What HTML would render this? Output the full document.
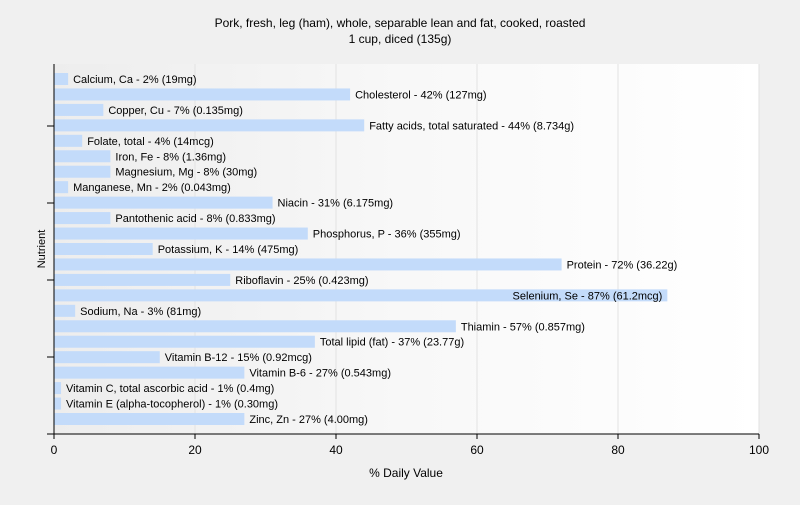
<!DOCTYPE html>
<html><head><meta charset="utf-8"><style>
body{margin:0;background:#f0f0f0;font-family:"Liberation Sans",sans-serif}
</style></head><body>
<svg id="c" width="800" height="500" xmlns="http://www.w3.org/2000/svg">
<defs><linearGradient id="g" x1="0" x2="1" y1="0" y2="0"><stop offset="0" stop-color="#ededed"/><stop offset="0.5" stop-color="#f8f8f8"/><stop offset="1" stop-color="#ffffff"/></linearGradient></defs>
<rect x="54" y="64" width="705" height="370" fill="url(#g)"/>
<text x="400" y="27" text-anchor="middle" font-size="12">Pork, fresh, leg (ham), whole, separable lean and fat, cooked, roasted</text>
<text x="400" y="43" text-anchor="middle" font-size="12">1 cup, diced (135g)</text>
<text x="406" y="477" text-anchor="middle" font-size="12">% Daily Value</text>
<text transform="translate(45,249) rotate(-90)" text-anchor="middle" font-size="11">Nutrient</text>
<g id="grid"></g><g id="bars"></g><g id="axes"></g>
</svg>
<script>
const names=["Calcium, Ca","Cholesterol","Copper, Cu","Fatty acids, total saturated","Folate, total","Iron, Fe","Magnesium, Mg","Manganese, Mn","Niacin","Pantothenic acid","Phosphorus, P","Potassium, K","Protein","Riboflavin","Selenium, Se","Sodium, Na","Thiamin","Total lipid (fat)","Vitamin B-12","Vitamin B-6","Vitamin C, total ascorbic acid","Vitamin E (alpha-tocopherol)","Zinc, Zn"];
const values=[2,42,7,44,4,8,8,2,31,8,36,14,72,25,87,3,57,37,15,27,1,1,27];
const amounts=["19mg","127mg","0.135mg","8.734g","14mcg","1.36mg","30mg","0.043mg","6.175mg","0.833mg","355mg","475mg","36.22g","0.423mg","61.2mcg","81mg","0.857mg","23.77g","0.92mcg","0.543mg","0.4mg","0.30mg","4.00mg"];
const xTicks=[0,20,40,60,80,100];
const NS="http://www.w3.org/2000/svg";
const x=v=>54+v*7.05;
const n=names.length;
const y=i=>79+i*(419-79)/(n-1);
function mk(t,a,p){const e=document.createElementNS(NS,t);for(const k in a)e.setAttribute(k,a[k]);document.getElementById(p).appendChild(e);return e;}
xTicks.forEach(t=>{
 if(t>0){const l=mk('line',{x1:x(t),x2:x(t),y1:64,y2:434,stroke:'#e2e2e2'},'grid');
 
 }
 const k=mk('line',{x1:x(t),x2:x(t),y1:434,y2:439,stroke:'#000'},'axes');
 
 
 const tx=mk('text',{x:x(t),y:454,'text-anchor':'middle','font-size':12},'axes');tx.textContent=t;
 
 
});
names.forEach((nm,i)=>{
 const r=mk('rect',{x:54,y:y(i)-6,width:x(values[i])-54,height:12,fill:'#c3dbfa'},'bars');
 
 
 const t=mk('text',{x:x(values[i])+5,y:y(i)+4,'font-size':11,fill:'#000'},'bars');
 t.textContent=nm+' - '+values[i]+'% ('+amounts[i]+')';
 
 
 if(x(values[i])+5+t.getComputedTextLength()>759){
  t.setAttribute('x',x(values[i])-5);
  t.setAttribute('text-anchor','end');
 }
});
[126,203,280,357].forEach((yy,i)=>{
 const k=mk('line',{x1:47,x2:54,y1:yy,y2:yy,stroke:'#000'},'axes');
 
 
});
const ya=mk('line',{x1:54,x2:54,y1:64,y2:434,stroke:'#000'},'axes');


const xa=mk('line',{x1:47,x2:759,y1:434,y2:434,stroke:'#000'},'axes');


</script>
</body></html>
